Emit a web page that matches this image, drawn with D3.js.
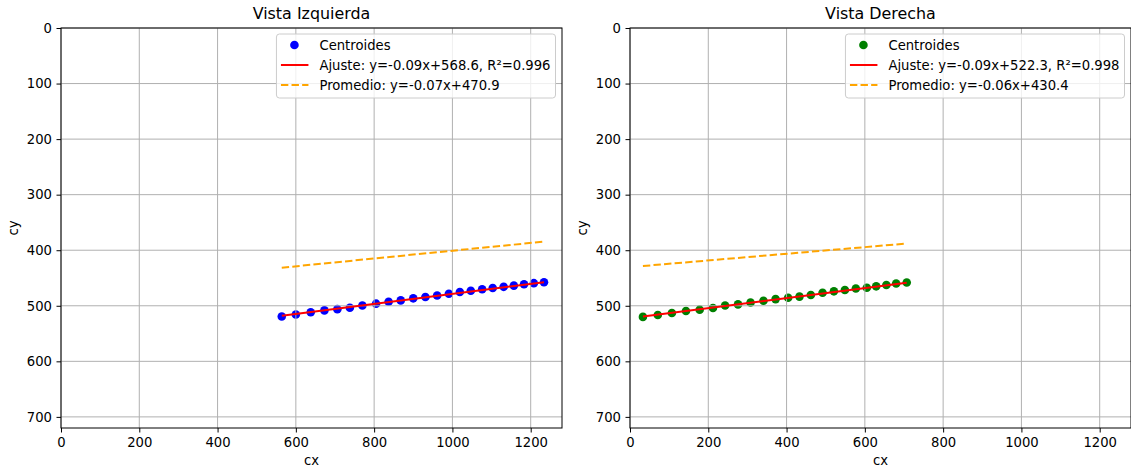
<!DOCTYPE html>
<html lang="en">
<head>
<meta charset="UTF-8">
<title>Vista Izquierda / Vista Derecha</title>
<style>
  body { margin: 0; background: #fff; }
  svg text { font-family: "DejaVu Sans", sans-serif; fill: #000; }
</style>
<script src="https://d3js.org/d3.v7.min.js"></script>
</head>
<body>
<svg id="chart" width="1131" height="471"></svg>
<script>
// centroid data
var leftCx = [564, 600, 638, 673, 706, 738, 770, 805, 837, 868, 900, 931, 961, 991, 1019, 1047, 1076, 1103, 1131, 1157, 1183, 1208, 1234];
var leftCy = [519.2, 515.6, 511.6, 508.3, 506.1, 503.6, 499.5, 496.2, 492.7, 490.3, 486.6, 484.1, 481.5, 478.4, 475.2, 472.9, 470.3, 468, 465.9, 463.7, 461.2, 459.3, 457.6];
var rightCx = [33, 71, 107, 143, 178, 212, 243, 276, 308, 341, 372, 404, 433, 462, 492, 521, 549, 577, 605, 629, 655, 680, 707];
var rightCy = [520, 516.5, 513, 509.5, 507, 504, 499.5, 497.5, 494, 491, 488, 485.5, 483.5, 480.5, 476.5, 474, 471.5, 469, 467.5, 465, 462.5, 460, 458];

// [slope, intercept]
var leftFit = [-0.09, 568.6];
var leftMean = [-0.07, 470.9];
var rightFit = [-0.09, 522.3];
var rightMean = [-0.06, 430.4];

var xTicks = [0, 200, 400, 600, 800, 1000, 1200];
var yTicks = [0, 100, 200, 300, 400, 500, 600, 700];

var titles = ["Vista Izquierda", "Vista Derecha"];
var leftLabels = ["Centroides", "Ajuste: y=-0.09x+568.6, R\u00b2=0.996", "Promedio: y=-0.07x+470.9"];
var rightLabels = ["Centroides", "Ajuste: y=-0.09x+522.3, R\u00b2=0.998", "Promedio: y=-0.06x+430.4"];

var svg = d3.select("#chart");
var plotTop = 28, plotBottom = 428;
var fs = 13.2;

function drawPanel(x0, x1, cx, cy, fit, mean, color, title, labels) {
    var x = d3.scaleLinear().domain([0, 1280]).range([x0, x1]);
    var y = d3.scaleLinear().domain([0, 720]).range([plotTop, plotBottom]);
    var g = svg.append("g");

    // scatter first (matplotlib zorder 1)
    g.selectAll(".pt")
        .data(d3.range(cx.length))
        .enter().append("circle")
        .attr("cx", function (i) { return x(cx[i]); })
        .attr("cy", function (i) { return y(cy[i]); })
        .attr("r", 4.3)
        .attr("fill", color);

    // grid
    g.selectAll(".gx").data(xTicks).enter().append("line")
        .attr("x1", function (d) { return x(d); }).attr("x2", function (d) { return x(d); })
        .attr("y1", plotTop).attr("y2", plotBottom)
        .attr("stroke", "#b0b0b0").attr("stroke-width", 1);
    g.selectAll(".gy").data(yTicks).enter().append("line")
        .attr("x1", x0).attr("x2", x1)
        .attr("y1", function (d) { return y(d); }).attr("y2", function (d) { return y(d); })
        .attr("stroke", "#b0b0b0").attr("stroke-width", 1);

    var xmin = d3.min(cx), xmax = d3.max(cx);
    var line = d3.line().x(function (d) { return x(d[0]); }).y(function (d) { return y(d[1]); });

    g.append("path")
        .attr("d", line([[xmin, mean[0] * xmin + mean[1]], [xmax, mean[0] * xmax + mean[1]]]))
        .attr("stroke", "orange").attr("stroke-width", 2).attr("fill", "none")
        .attr("stroke-dasharray", "7.4,3.2");
    g.append("path")
        .attr("d", line([[xmin, fit[0] * xmin + fit[1]], [xmax, fit[0] * xmax + fit[1]]]))
        .attr("stroke", "red").attr("stroke-width", 2).attr("fill", "none");

    // frame
    g.append("rect")
        .attr("x", x0).attr("y", plotTop).attr("width", x1 - x0).attr("height", plotBottom - plotTop)
        .attr("fill", "none").attr("stroke", "#000").attr("stroke-width", 1);

    // axes
    var xa = g.append("g").attr("transform", "translate(0," + plotBottom + ")")
        .call(d3.axisBottom(x).tickValues(xTicks).tickFormat(d3.format("d")).tickSize(4.5).tickPadding(4.5));
    var ya = g.append("g").attr("transform", "translate(" + x0 + ",0)")
        .call(d3.axisLeft(y).tickValues(yTicks).tickFormat(d3.format("d")).tickSize(4.5).tickPadding(4.5));
    [xa, ya].forEach(function (a) {
        a.select(".domain").remove();
        a.selectAll("text").style("font-size", fs + "px").attr("font-family", "DejaVu Sans");
        a.selectAll("line").attr("stroke", "#000");
    });
    xa.selectAll("text").attr("dy", null).attr("y", 4.5 + 4.5 + 9.8);

    g.append("text").attr("x", (x0 + x1) / 2).attr("y", 19)
        .attr("text-anchor", "middle").style("font-size", "15.9px").text(title);
    g.append("text").attr("x", (x0 + x1) / 2).attr("y", 465)
        .attr("text-anchor", "middle").style("font-size", fs + "px").text("cx");
    g.append("text").attr("transform", "translate(" + (x0 - 43) + "," + ((plotTop + plotBottom) / 2) + ") rotate(-90)")
        .attr("text-anchor", "middle").style("font-size", fs + "px").text("cy");

    // legend
    var lg = g.append("g");
    var texts = labels.map(function (t, i) {
        return lg.append("text").attr("y", plotTop + 17 + i * 20 + 4.7)
            .style("font-size", fs + "px").text(t);
    });
    var tw = d3.max(texts, function (t) { return t.node().getComputedTextLength(); });
    var boxW = 43 + tw + 5;
    var bx = x1 - 6.5 - boxW, by = plotTop + 6;
    lg.insert("rect", "text")
        .attr("x", bx).attr("y", by).attr("width", boxW).attr("height", 64)
        .attr("rx", 3).attr("fill", "rgba(255,255,255,0.8)")
        .attr("stroke", "#cccccc").attr("stroke-width", 1);
    texts.forEach(function (t) { t.attr("x", bx + 43); });
    lg.append("circle").attr("cx", bx + 18).attr("cy", plotTop + 17).attr("r", 4.3).attr("fill", color);
    lg.append("line").attr("x1", bx + 4.5).attr("x2", bx + 32)
        .attr("y1", plotTop + 37).attr("y2", plotTop + 37)
        .attr("stroke", "red").attr("stroke-width", 2);
    lg.append("line").attr("x1", bx + 4.5).attr("x2", bx + 32)
        .attr("y1", plotTop + 57).attr("y2", plotTop + 57)
        .attr("stroke", "orange").attr("stroke-width", 2).attr("stroke-dasharray", "7.4,3.2");
}

drawPanel(61, 562, leftCx, leftCy, leftFit, leftMean, "blue", titles[0], leftLabels);
drawPanel(630, 1131, rightCx, rightCy, rightFit, rightMean, "green", titles[1], rightLabels);
</script>
</body>
</html>
